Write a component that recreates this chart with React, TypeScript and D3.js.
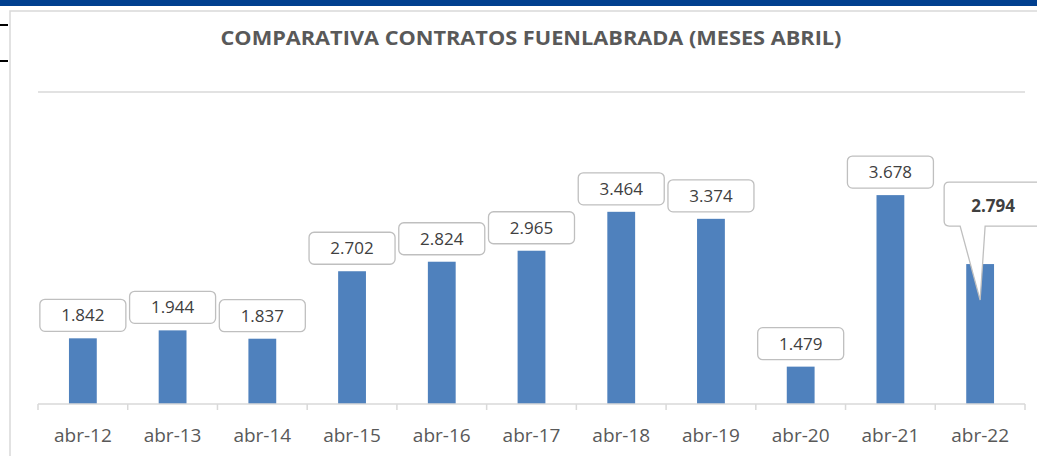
import React from 'react';
import * as d3 from 'd3';

const months = ['abr-12', 'abr-13', 'abr-14', 'abr-15', 'abr-16', 'abr-17', 'abr-18', 'abr-19', 'abr-20', 'abr-21', 'abr-22'];
const contracts = [1842, 1944, 1837, 2702, 2824, 2965, 3464, 3374, 1479, 3678, 2794];
const yDomain = [1000, 5000];
const title = 'COMPARATIVA CONTRATOS FUENLABRADA (MESES ABRIL)';

const W = 1037;
const H = 456;
const FONT = '"Open Sans", "Liberation Sans", sans-serif';

const fmt = (v: number) => d3.format(',')(v).replace(/,/g, '.');

export default function App() {
    const x = d3.scaleBand<string>()
        .domain(months)
        .range([38, 1025])
        .paddingInner(0.69)
        .paddingOuter(0.345);

    const y = d3.scaleLinear()
        .domain(yDomain)
        .range([404, 92]);

    const boundaries = d3.range(months.length + 1).map(i => 38 + i * ((1025 - 38) / months.length));

    return (
        <div style={{ position: 'fixed', left: 0, top: 0, width: W, height: H, background: '#fff' }}>
            <svg width={W} height={H} style={{ display: 'block' }}>
                {/* page decorations */}
                <rect x={0} y={0} width={W} height={6} fill="#003f8f" />
                <line x1={0} x2={8} y1={25} y2={25} stroke="#000" strokeWidth={2} />
                <line x1={0} x2={8} y1={61} y2={61} stroke="#000" strokeWidth={2} />
                <rect x={10} y={11} width={W + 20} height={H + 20} fill="#fff" stroke="#d9d9d9" strokeWidth={1.5} />

                <text x={531} y={45} textAnchor="middle" fontFamily={FONT} fontWeight="bold" fontSize={20}
                    fill="#595959" textLength={621} lengthAdjust="spacingAndGlyphs">{title}</text>

                {/* gridline at top */}
                <line x1={38} x2={1025} y1={y(yDomain[1])} y2={y(yDomain[1])} stroke="#d9d9d9" strokeWidth={1.5} />

                {/* bars */}
                {months.map((m, i) => (
                    <rect key={m} x={x(m)} y={y(contracts[i])} width={x.bandwidth()}
                        height={y(yDomain[0]) - y(contracts[i])} fill="#4f81bd" />
                ))}

                {/* x axis */}
                <line x1={38} x2={1025} y1={404} y2={404} stroke="#d9d9d9" strokeWidth={1.5} />
                {boundaries.map((bx, i) => (
                    <line key={i} x1={bx} x2={bx} y1={404} y2={410} stroke="#d9d9d9" strokeWidth={1.5} />
                ))}
                {months.map(m => (
                    <text key={m} x={(x(m) as number) + x.bandwidth() / 2} y={442} textAnchor="middle"
                        fontFamily={FONT} fontSize={19} fill="#595959">{m}</text>
                ))}

                {/* data labels */}
                {months.map((m, i) => {
                    const cx = (x(m) as number) + x.bandwidth() / 2;
                    const top = y(contracts[i]);
                    if (i === months.length - 1) {
                        // callout for the latest month
                        const bx0 = cx - 36, bx1 = cx + 62, by0 = top - 82, by1 = top - 38;
                        const r = 5;
                        const path = `M${bx0 + r},${by0} H${bx1 - r} Q${bx1},${by0} ${bx1},${by0 + r} V${by1 - r} Q${bx1},${by1} ${bx1 - r},${by1}`
                            + ` H${cx + 5} L${cx},${top + 36} L${cx - 20},${by1} H${bx0 + r} Q${bx0},${by1} ${bx0},${by1 - r}`
                            + ` V${by0 + r} Q${bx0},${by0} ${bx0 + r},${by0} Z`;
                        return (
                            <g key={m}>
                                <path d={path} fill="#fff" stroke="#bfbfbf" strokeWidth={1.3} />
                                <text x={cx + 13} y={by0 + 30} textAnchor="middle" fontFamily={FONT} fontWeight="bold"
                                    fontSize={17} fill="#404040">{fmt(contracts[i])}</text>
                            </g>
                        );
                    }
                    const bw = 86, bh = 32;
                    const by1 = top - 7;
                    return (
                        <g key={m}>
                            <rect x={cx - bw / 2} y={by1 - bh} width={bw} height={bh} rx={5} ry={5}
                                fill="#fff" stroke="#bfbfbf" strokeWidth={1.3} />
                            <text x={cx} y={by1 - bh / 2 + 6} textAnchor="middle" fontFamily={FONT}
                                fontSize={17} fill="#404040">{fmt(contracts[i])}</text>
                        </g>
                    );
                })}
            </svg>
        </div>
    );
}
